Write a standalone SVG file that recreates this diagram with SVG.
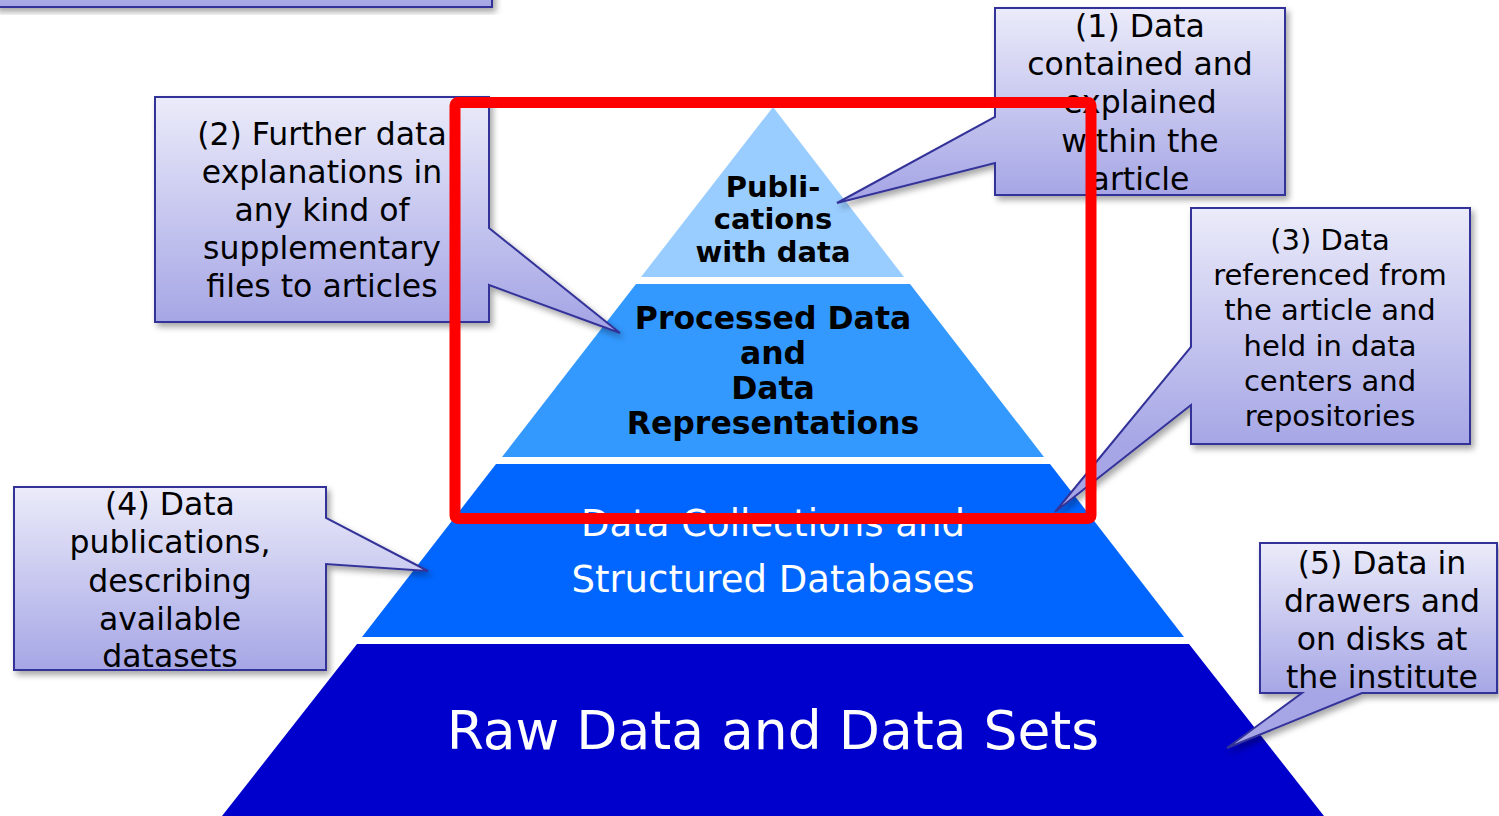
<svg xmlns="http://www.w3.org/2000/svg" width="1499" height="816" viewBox="0 0 1499 816">
<defs>
<filter id="sh" x="-10%" y="-10%" width="125%" height="130%">
<feDropShadow dx="3" dy="4" stdDeviation="3" flood-color="#000" flood-opacity="0.35"/>
</filter>
<linearGradient id="g0" gradientUnits="userSpaceOnUse" x1="0" y1="-180" x2="0" y2="7"><stop offset="0" stop-color="#EBEBFA"/><stop offset="1" stop-color="#A6A6E6"/></linearGradient>
<linearGradient id="g1" gradientUnits="userSpaceOnUse" x1="0" y1="8" x2="0" y2="195"><stop offset="0" stop-color="#EBEBFA"/><stop offset="1" stop-color="#A6A6E6"/></linearGradient>
<linearGradient id="g2" gradientUnits="userSpaceOnUse" x1="0" y1="97" x2="0" y2="322"><stop offset="0" stop-color="#EBEBFA"/><stop offset="1" stop-color="#A6A6E6"/></linearGradient>
<linearGradient id="g3" gradientUnits="userSpaceOnUse" x1="0" y1="208" x2="0" y2="444"><stop offset="0" stop-color="#EBEBFA"/><stop offset="1" stop-color="#A6A6E6"/></linearGradient>
<linearGradient id="g4" gradientUnits="userSpaceOnUse" x1="0" y1="487" x2="0" y2="670"><stop offset="0" stop-color="#EBEBFA"/><stop offset="1" stop-color="#A6A6E6"/></linearGradient>
<linearGradient id="g5" gradientUnits="userSpaceOnUse" x1="0" y1="543" x2="0" y2="693"><stop offset="0" stop-color="#EBEBFA"/><stop offset="1" stop-color="#A6A6E6"/></linearGradient>
</defs>
<style>
.co{stroke:#333399;stroke-width:2;stroke-linejoin:miter;filter:url(#sh)}
.ct{font-family:"DejaVu Sans","Verdana",sans-serif;font-size:31.5px;fill:#000;text-anchor:middle}
.ct3{font-family:"DejaVu Sans","Verdana",sans-serif;font-size:29px;fill:#000;text-anchor:middle}
.pb{font-family:"DejaVu Sans","Verdana",sans-serif;font-weight:bold;fill:#000;text-anchor:middle}
.pw{font-family:"DejaVu Sans","Verdana",sans-serif;fill:#fff;text-anchor:middle}
</style>
<rect x="0" y="0" width="1499" height="816" fill="#fff"/>

<g id="pyramid">
<g id="layer-publications">
<polygon points="773,107 904,277 641,277" fill="#99CCFF"/>
<text class="pb" font-size="29" x="773" y="197">Publi-</text>
<text class="pb" font-size="29" x="773" y="229">cations</text>
<text class="pb" font-size="29" x="773" y="262">with data</text>
</g>
<g id="layer-processed">
<polygon points="636,284 910,284 1044,457 502,457" fill="#3399FF"/>
<text class="pb" font-size="31.5" x="773" y="329">Processed Data</text>
<text class="pb" font-size="31.5" x="773" y="364">and</text>
<text class="pb" font-size="31.5" x="773" y="399">Data</text>
<text class="pb" font-size="31.5" x="773" y="434">Representations</text>
</g>
<g id="layer-collections">
<polygon points="496,464 1050,464 1184,637 362,637" fill="#0066FF"/>
<text class="pw" font-size="37" x="773" y="536">Data Collections and</text>
<text class="pw" font-size="37" x="773" y="592">Structured Databases</text>
</g>
<g id="layer-raw">
<polygon points="357,644 1189,644 1324,816 222,816" fill="#0000CC"/>
<text class="pw" font-size="53.5" x="773" y="749">Raw Data and Data Sets</text>
</g>
</g>

<g id="callout-top">
<path class="co" fill="url(#g0)" d="M-5,-30 H492 V7 H-5 Z"/>
</g>

<g id="callout-1">
<path class="co" fill="url(#g1)" d="M995,8 H1285 V195 H995 V163 L837,203 L995,117 Z"/>
<text class="ct" x="1140" y="37">(1) Data</text>
<text class="ct" x="1140" y="75">contained and</text>
<text class="ct" x="1140" y="113">explained</text>
<text class="ct" x="1140" y="152">within the</text>
<text class="ct" x="1140" y="190">article</text>
</g>

<g id="callout-2">
<path class="co" fill="url(#g2)" d="M155,97 H489 V228 L620,333 L489,285 V322 H155 Z"/>
<text class="ct" x="322" y="145">(2) Further data</text>
<text class="ct" x="322" y="183">explanations in</text>
<text class="ct" x="322" y="221">any kind of</text>
<text class="ct" x="322" y="259">supplementary</text>
<text class="ct" x="322" y="297">files to articles</text>
</g>

<g id="callout-3">
<path class="co" fill="url(#g3)" d="M1191,208 H1470 V444 H1191 V405 L1055,512 L1191,347 Z"/>
<text class="ct3" x="1330" y="250">(3) Data</text>
<text class="ct3" x="1330" y="285">referenced from</text>
<text class="ct3" x="1330" y="320">the article and</text>
<text class="ct3" x="1330" y="356">held in data</text>
<text class="ct3" x="1330" y="391">centers and</text>
<text class="ct3" x="1330" y="426">repositories</text>
</g>

<g id="callout-4">
<path class="co" fill="url(#g4)" d="M14,487 H326 V518 L428,571 L326,564 V670 H14 Z"/>
<text class="ct" x="170" y="515">(4) Data</text>
<text class="ct" x="170" y="553">publications,</text>
<text class="ct" x="170" y="592">describing</text>
<text class="ct" x="170" y="630">available</text>
<text class="ct" x="170" y="667">datasets</text>
</g>

<g id="callout-5">
<path class="co" fill="url(#g5)" d="M1260,543 H1497 V693 H1362 L1227,748 L1302,693 H1260 Z"/>
<text class="ct" x="1382" y="574">(5) Data in</text>
<text class="ct" x="1382" y="612">drawers and</text>
<text class="ct" x="1382" y="650">on disks at</text>
<text class="ct" x="1382" y="688">the institute</text>
</g>

<g id="connectors"></g>

<g id="highlight">
<rect x="455" y="102.5" width="636" height="416" rx="3" fill="none" stroke="#FF0000" stroke-width="11" stroke-linejoin="round"/>
</g>
</svg>
